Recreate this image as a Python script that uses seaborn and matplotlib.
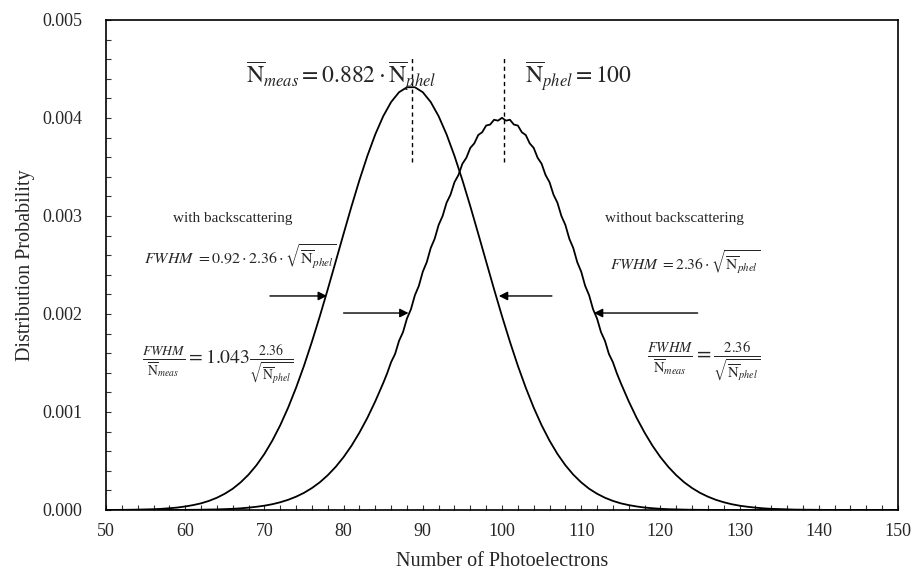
import matplotlib
matplotlib.use("Agg")
import matplotlib.pyplot as plt
import pandas as pd
import seaborn as sns
from matplotlib.ticker import MultipleLocator, FormatStrFormatter

# ---------------- data ----------------
# curve without backscattering (mean 100), finer sampling near the rippled top
x_without = list(range(50, 86)) + [k / 2 for k in range(171, 230)] + list(range(115, 151))
y_without = [
    0, 0, 0, 0, 0, 0, 0, 0, 0.0000006, 0.0000009,                       # 50-59
    0.0000013, 0.000002, 0.000003, 0.000004, 0.000006, 0.000009,         # 60-65
    0.000012, 0.000017, 0.000024, 0.000033,                              # 66-69
    0.000044, 0.000059, 0.000079, 0.000104, 0.000136,                    # 70-74
    0.000175, 0.000224, 0.000283, 0.000355, 0.000440,                    # 75-79
    0.000540, 0.000656, 0.000790, 0.000940, 0.001109, 0.001295,          # 80-85
    # 85.5 .. 99.5
    0.001395, 0.001509, 0.001592, 0.001726, 0.001815, 0.001954, 0.002048,
    0.002191, 0.002287, 0.002432, 0.002529, 0.002673, 0.002768, 0.002909,
    0.003000, 0.003135, 0.003218, 0.003345, 0.003418, 0.003533, 0.003594,
    0.003695, 0.003741, 0.003826, 0.003855, 0.003923, 0.003933, 0.003982,
    0.003973,
    0.004002,                                                            # 100
    # 100.5 .. 114.5
    0.003973, 0.003982, 0.003933, 0.003923, 0.003855, 0.003826, 0.003741,
    0.003695, 0.003594, 0.003533, 0.003418, 0.003345, 0.003218, 0.003135,
    0.003000, 0.002909, 0.002768, 0.002673, 0.002529, 0.002432, 0.002287,
    0.002191, 0.002048, 0.001954, 0.001815, 0.001726, 0.001592, 0.001509,
    0.001395,
    # 115 .. 150
    0.001295, 0.001109, 0.000940, 0.000790, 0.000656,
    0.000540, 0.000440, 0.000355, 0.000283, 0.000224,
    0.000175, 0.000136, 0.000104, 0.000079, 0.000059,
    0.000044, 0.000033, 0.000024, 0.000017, 0.000012,
    0.000009, 0.000006, 0.000004, 0.000003, 0.000002,
    0.0000013, 0.0000009, 0.0000006, 0, 0, 0, 0, 0, 0, 0, 0,
]

# curve with backscattering (mean ~88.2)
x_with = list(range(50, 151))
y_with = [
    0.0000007, 0.000001, 0.0000016, 0.0000025, 0.000004,                 # 50-54
    0.000006, 0.000008, 0.000012, 0.000018, 0.000025,                    # 55-59
    0.000036, 0.000050, 0.000068, 0.000093, 0.000125,                    # 60-64
    0.000166, 0.000217, 0.000282, 0.000361, 0.000457,                    # 65-69
    0.000572, 0.000708, 0.000865, 0.001045, 0.001248,                    # 70-74
    0.001472, 0.001717, 0.001978, 0.002252, 0.002535,                    # 75-79
    0.002819, 0.003099, 0.003366, 0.003613, 0.003833,                    # 80-84
    0.004018, 0.004163, 0.004263, 0.004314, 0.004314,                    # 85-89
    0.004263, 0.004163, 0.004018, 0.003833, 0.003613,                    # 90-94
    0.003366, 0.003099, 0.002819, 0.002535, 0.002252,                    # 95-99
    0.001978, 0.001717, 0.001472, 0.001248, 0.001045,                    # 100-104
    0.000865, 0.000708, 0.000572, 0.000457, 0.000361,                    # 105-109
    0.000282, 0.000217, 0.000166, 0.000125, 0.000093,                    # 110-114
    0.000068, 0.000050, 0.000036, 0.000025, 0.000018,                    # 115-119
    0.000012, 0.000008, 0.000006, 0.000004, 0.0000025,                   # 120-124
    0.0000016, 0.000001, 0.0000007,                                      # 125-127
    0, 0, 0, 0, 0, 0, 0, 0, 0, 0, 0, 0, 0, 0, 0, 0, 0, 0, 0, 0, 0, 0, 0, # 128-150
]

series_names = ["without backscattering", "with backscattering"]
mean_lines = [88.6, 100.2]             # dashed markers of the two means
x_ticks = [50, 60, 70, 80, 90, 100, 110, 120, 130, 140, 150]
y_ticks = [0.000, 0.001, 0.002, 0.003, 0.004, 0.005]

# ---------------- build table ----------------
df = pd.concat([
    pd.DataFrame({"n": x_without, "p": y_without, "series": series_names[0]}),
    pd.DataFrame({"n": x_with, "p": y_with, "series": series_names[1]}),
], ignore_index=True)

sns.set_theme(style="white")
plt.rcParams["font.family"] = ["Liberation Serif", "DejaVu Serif"]
plt.rcParams["mathtext.fontset"] = "stix"

fig = plt.figure(figsize=(9.16, 5.78), dpi=100)
ax = fig.add_axes([106 / 916, 1 - 510 / 578, 792 / 916, 490 / 578])

sns.lineplot(data=df, x="n", y="p", hue="series", palette=["black", "black"],
             estimator=None, legend=False, ax=ax, linewidth=1.3)

ax.set_xlim(50, 150)
ax.set_ylim(0, 0.005)
ax.set_xticks(x_ticks)
ax.set_yticks(y_ticks)
ax.yaxis.set_major_formatter(FormatStrFormatter("%.3f"))
ax.xaxis.set_minor_locator(MultipleLocator(2))
ax.yaxis.set_minor_locator(MultipleLocator(0.0002))
ax.tick_params(axis="both", which="both", direction="in", length=3.5, width=0.8,
               color="#333333", top=False, right=False, bottom=True, left=True)
ax.tick_params(axis="x", which="major", labelsize=13, pad=9)
ax.tick_params(axis="y", which="major", labelsize=13, pad=17)
for s in ax.spines.values():
    s.set_color("black")
    s.set_linewidth(1.2)

ax.set_xlabel("Number of Photoelectrons", fontsize=14.5)
ax.set_ylabel("Distribution Probability", fontsize=14.5)
ax.xaxis.set_label_coords(0.5, -0.085)
ax.yaxis.set_label_coords(-0.09, 0.5)

# dashed lines at the means
for m in mean_lines:
    ax.plot([m, m], [0.00355, 0.00462], color="black", lw=1.0, ls=(0, (3, 2.5)))

# equations
ax.text(79.7, 0.00443, r"$\overline{\mathrm{N}}_{\mathit{meas}}=0.882\cdot\overline{\mathrm{N}}_{\mathit{phel}}$",
        fontsize=17, ha="center", va="center")
ax.text(109.6, 0.00443, r"$\overline{\mathrm{N}}_{\mathit{phel}}=100$",
        fontsize=17, ha="center", va="center")

ax.text(66.0, 0.00297, "with backscattering", fontsize=11, ha="center", va="center")
ax.text(121.8, 0.00297, "without backscattering", fontsize=11, ha="center", va="center")

ax.text(66.9, 0.00258, r"$FWHM\ =0.92\cdot2.36\cdot\sqrt{\overline{\mathrm{N}}_{\mathit{phel}}}$",
        fontsize=11.5, ha="center", va="center")
ax.text(123.2, 0.00253, r"$FWHM\ =2.36\cdot\sqrt{\overline{\mathrm{N}}_{\mathit{phel}}}$",
        fontsize=11.2, ha="center", va="center")

ax.text(64.1, 0.00148,
        r"$\frac{FWHM}{\overline{\mathrm{N}}_{\mathit{meas}}}=1.043\frac{2.36}{\sqrt{\overline{\mathrm{N}}_{\mathit{phel}}}}$",
        fontsize=14.2, ha="center", va="center")
ax.text(125.5, 0.00151,
        r"$\frac{FWHM}{\overline{\mathrm{N}}_{\mathit{meas}}}=\frac{2.36}{\sqrt{\overline{\mathrm{N}}_{\mathit{phel}}}}$",
        fontsize=15, ha="center", va="center")

# FWHM arrows
arrow_kw = dict(arrowstyle="-|>", color="black", lw=1.0, mutation_scale=13, shrinkA=0, shrinkB=0)
ax.annotate("", xy=(77.9, 0.002184), xytext=(70.7, 0.002184), arrowprops=arrow_kw)
ax.annotate("", xy=(88.2, 0.00201), xytext=(80.0, 0.00201), arrowprops=arrow_kw)
ax.annotate("", xy=(99.6, 0.002184), xytext=(106.3, 0.002184), arrowprops=arrow_kw)
ax.annotate("", xy=(111.6, 0.00201), xytext=(124.7, 0.00201), arrowprops=arrow_kw)

fig.savefig("out.png", dpi=100)
